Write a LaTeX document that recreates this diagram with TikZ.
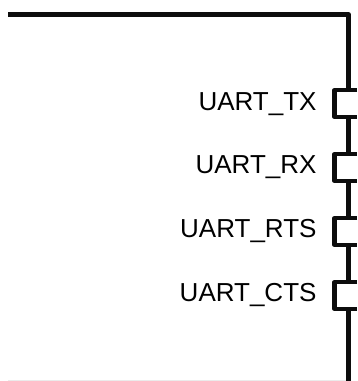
\documentclass[tikz,border=0pt]{standalone}
\usepackage{fontspec}
\setmainfont{Liberation Sans}
\tikzset{
  pinlabel/.style={anchor=base east, inner sep=0pt, text=black, font=\fontsize{26}{30}\selectfont},
  wire/.style={line width=4.2pt, line join=round, draw=black!95}
}
\begin{document}
\begin{tikzpicture}[x=1pt,y=-1pt]
  \useasboundingbox (0,0) rectangle (357,381);
  \fill[black!8] (8,380) rectangle (346,381);

  % chip outline down to the first pin
  \coordinate (start) at (8,14.5);
  \coordinate (corner) at (348.5,14.5);
  \coordinate (pinA) at (348.5,90);
  \draw[wire] (start) -- (corner) -- (pinA);

  % pins, open towards the page edge
  \foreach \y/\name/\txt/\base in {90/pinA/UART\_TX/110, 154/pinB/UART\_RX/173.5, 218/pinC/UART\_RTS/237.5, 282/pinD/UART\_CTS/301} {
    \draw[wire] (357,\y) -- (334.5,\y) -- (334.5,\y+27) -- (357,\y+27);
    \node[pinlabel] (\name) at (316.7,\base) {\txt};
  }

  % outline between the pins
  \foreach \y in {117,181,245,309}
    \coordinate (gap\y) at (348.5,\y);
  \draw[wire] (gap117) -- (348.5,154);
  \draw[wire] (gap181) -- (348.5,218);
  \draw[wire] (gap245) -- (348.5,282);
  \draw[wire] (gap309) -- (348.5,381);
\end{tikzpicture}
\end{document}
